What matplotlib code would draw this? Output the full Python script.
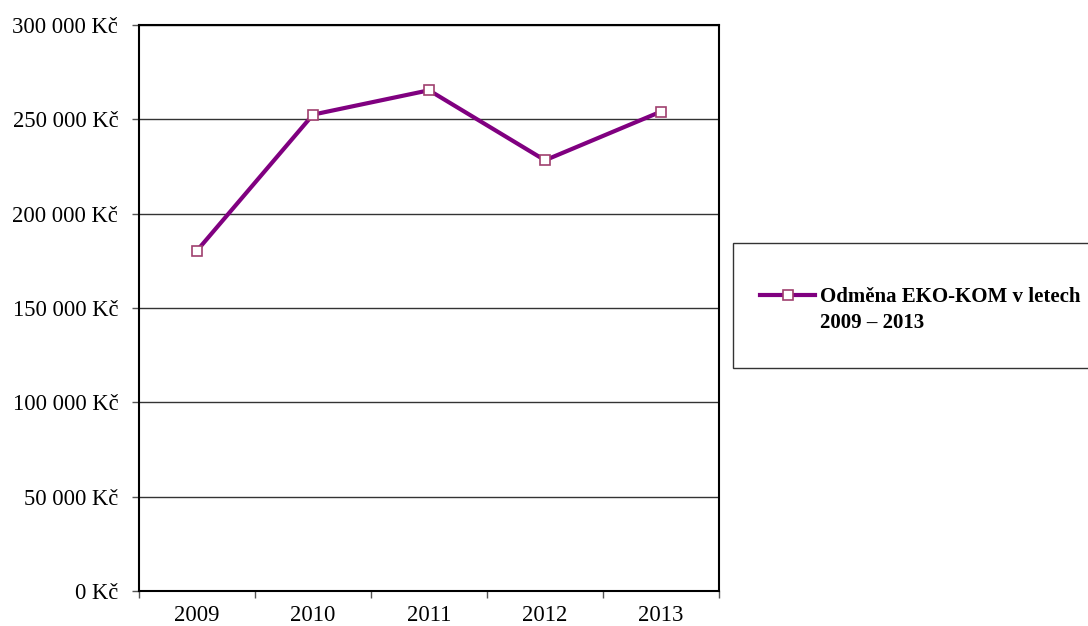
import matplotlib
matplotlib.use("Agg")
import matplotlib.pyplot as plt
from matplotlib.patches import Rectangle
from matplotlib.ticker import FuncFormatter

years = ["2009", "2010", "2011", "2012", "2013"]
values = [180400, 252500, 265400, 228300, 254100]
y_ticks = [0, 50000, 100000, 150000, 200000, 250000, 300000]
legend_line1 = "Odměna EKO-KOM v letech"
legend_line2 = "2009 – 2013"

plt.rcParams['font.family'] = ['Liberation Serif', 'DejaVu Serif']

W, H = 1088, 626
fig = plt.figure(figsize=(W / 100, H / 100), dpi=100)
ax = fig.add_axes([139 / W, 1 - 591 / H, (719 - 139) / W, (591 - 25) / H])

x = list(range(len(years)))
line, = ax.plot(x, values, color='#800080', lw=3, marker='s', markersize=6.5,
                markerfacecolor='white', markeredgecolor='#a0406e', markeredgewidth=1.2,
                label=legend_line1, zorder=3)

ax.set_xlim(-0.5, len(years) - 0.5)
ax.set_ylim(0, 300000)
ax.set_yticks(y_ticks)
ax.yaxis.set_major_formatter(FuncFormatter(lambda v, p: f"{int(v):,} Kč".replace(",", " ")))
ax.tick_params(axis='y', labelsize=16.3, length=5, width=1, color='#555555', pad=10)
ax.grid(axis='y', color='#333333', lw=1)
ax.set_axisbelow(True)

ax.set_xticks([i - 0.5 for i in range(len(years) + 1)])
ax.set_xticklabels([])
ax.tick_params(axis='x', which='major', length=5, width=1, color='#555555')
ax.set_xticks(x, minor=True)
ax.set_xticklabels(years, minor=True)
ax.tick_params(axis='x', which='minor', length=0, labelsize=16.3, pad=10)

for s in ax.spines.values():
    s.set_color('black')
    s.set_linewidth(1.5)

# legend box
fig.patches.append(Rectangle((733 / W, 1 - 368 / H), (1100 - 733) / W, (368 - 243) / H,
                             transform=fig.transFigure, facecolor='white',
                             edgecolor='#333333', lw=1))
leg = fig.legend(handles=[line], labels=[legend_line1], loc='center left',
                 bbox_to_anchor=(760 / W, 1 - 297 / H), frameon=False,
                 prop={'weight': 'bold', 'size': 15}, handlelength=2.65,
                 handletextpad=0.25, borderpad=0, borderaxespad=0)
fig.text(820 / W, 1 - 323 / H, legend_line2, fontsize=15, fontweight='bold',
         va='center', ha='left')

fig.savefig("out.png", dpi=100)
